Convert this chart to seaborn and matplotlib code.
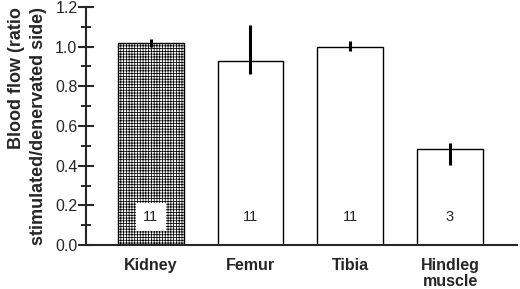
import pandas as pd
import matplotlib as mpl
mpl.use('Agg')
import matplotlib.pyplot as plt
import numpy as np
import seaborn as sns

tissues = ['Kidney', 'Femur', 'Tibia', 'Hindleg\nmuscle']
ratio = [1.02, 0.93, 1.00, 0.485]
err_low = [0.02, 0.07, 0.02, 0.08]
err_high = [0.02, 0.18, 0.03, 0.03]
n_animals = ['11', '11', '11', '3']

sns.set_style('ticks')
plt.rcParams['font.family'] = ['Liberation Sans', 'DejaVu Sans']
plt.rcParams['hatch.linewidth'] = 0.55

df = pd.DataFrame({'tissue': tissues, 'ratio': ratio})

fig = plt.figure(figsize=(5.2, 2.89), dpi=100)
ax = fig.add_axes([0.165, 0.152, 0.829, 0.824])

sns.barplot(data=df, x='tissue', y='ratio', color='white', edgecolor='black',
            linewidth=1.0, width=0.66, errorbar=None, ax=ax)
ax.patches[0].set_hatch('++++++')

xs = np.arange(len(tissues))
ax.errorbar(xs, ratio, yerr=[err_low, err_high], fmt='none', ecolor='black',
            elinewidth=2.2, capsize=0, zorder=5)

for i, n in enumerate(n_animals):
    if i == 0:
        ax.text(xs[i], 0.142, n, ha='center', va='center', fontsize=10.5,
                bbox=dict(facecolor='white', edgecolor='none', boxstyle='square,pad=0.5'))
    else:
        ax.text(xs[i], 0.142, n, ha='center', va='center', fontsize=10.5)

ax.set_xlim(-0.65, 3.67)
ax.set_ylim(0, 1.2)
ax.set_yticks(np.arange(0, 1.21, 0.2))
ax.set_yticklabels(['0.0', '0.2', '0.4', '0.6', '0.8', '1.0', '1.2'], fontsize=11.5)
ax.set_yticks(np.arange(0.1, 1.2, 0.2), minor=True)
ax.tick_params(axis='y', which='major', direction='inout', length=12, width=1.5, pad=0)
ax.tick_params(axis='y', which='minor', direction='inout', length=7, width=1.4)
ax.tick_params(axis='x', length=0, pad=9)
for lab in ax.get_xticklabels():
    lab.set_fontweight('bold')
    lab.set_fontsize(11.5)
    lab.set_linespacing(1.1)
    lab.set_va('top')

ax.set_xlabel('')
ax.set_ylabel('Blood flow (ratio\nstimulated/denervated side)', fontsize=13,
              fontweight='bold', linespacing=1.35, labelpad=6,
              multialignment='right')
sns.despine(ax=ax)
ax.spines['left'].set_linewidth(1.5)
ax.spines['bottom'].set_linewidth(1.5)

fig.savefig('out.png', dpi=100)
